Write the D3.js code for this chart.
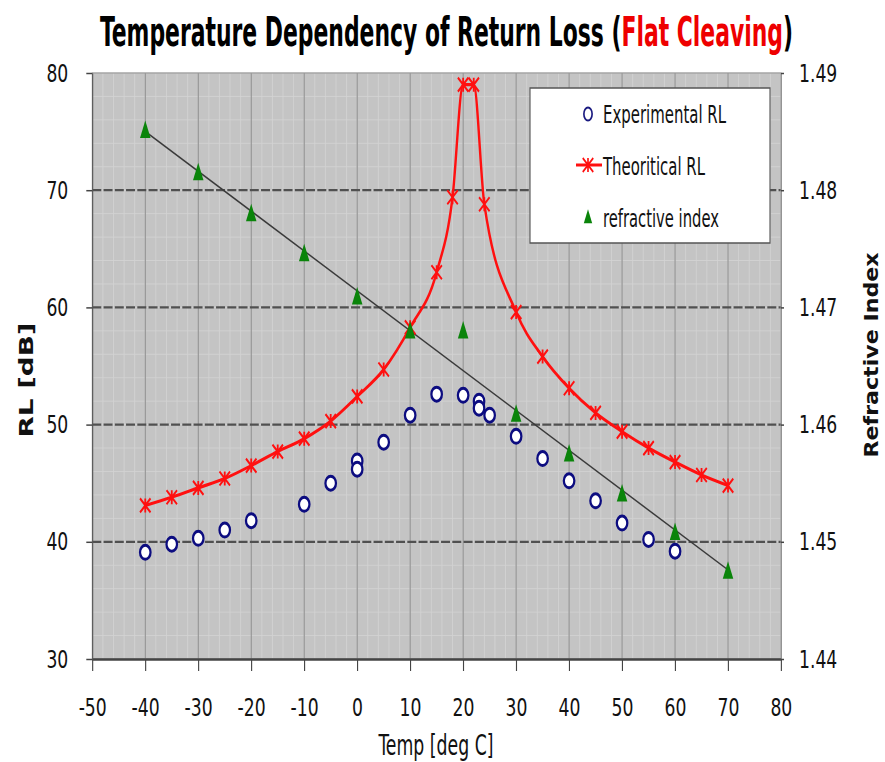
<!DOCTYPE html>
<html>
<head>
<meta charset="utf-8">
<script src="https://cdn.jsdelivr.net/npm/d3@7/dist/d3.min.js"></script>
<style>
  body { margin: 0; background: #ffffff; }
</style>
</head>
<body>
<div id="container"></div>
<script>
let width = 885;
let height = 762;
let sx = 0.75; // the whole picture is squeezed sideways

let xTicks = [-50, -40, -30, -20, -10, 0, 10, 20, 30, 40, 50, 60, 70, 80];
let rlTicks = [30, 40, 50, 60, 70, 80];
let nTicks = [1.44, 1.45, 1.46, 1.47, 1.48, 1.49];

// Experimental RL (circles)
let expTemp = [-40, -35, -30, -25, -20, -10, -5, 0, 0, 5, 10, 15, 20, 23, 23, 25, 30, 35, 40, 45, 50, 55, 60];
let expRL = [39.1, 39.8, 40.3, 41.0, 41.8, 43.2, 45.0, 46.9, 46.2, 48.5, 50.8, 52.6, 52.5, 52.0, 51.4, 50.8, 49.0, 47.1, 45.2, 43.5, 41.6, 40.2, 39.2];

// Theoritical RL (red line)
let theoTemp = [-40, -35, -30, -25, -20, -15, -10, -5, 0, 5, 10, 15, 18, 20, 22, 24, 30, 35, 40, 45, 50, 55, 60, 65, 70];
let theoRL = [43.1, 43.8, 44.6, 45.4, 46.5, 47.7, 48.8, 50.3, 52.4, 54.7, 58.3, 63.0, 69.4, 79.0, 79.0, 68.8, 59.6, 55.8, 53.1, 51.0, 49.4, 48.0, 46.8, 45.7, 44.8];

// refractive index (triangles, right axis)
let idxTemp = [-40, -30, -20, -10, 0, 10, 20, 30, 40, 50, 60, 70];
let idxN = [1.4850, 1.4814, 1.4779, 1.4745, 1.4708, 1.4679, 1.4679, 1.4608, 1.4574, 1.4540, 1.4507, 1.4474];

let legendNames = ['Experimental RL', 'Theoritical RL', 'refractive index'];

let font = '"DejaVu Sans Condensed", "DejaVu Sans", sans-serif';
let fontWide = '"DejaVu Sans", sans-serif';

let svg = d3.select('#container')
    .append('svg')
    .attr('width', width)
    .attr('height', height);

let g = svg.append('g').attr('transform', `scale(${sx},1)`);

let pLeft = 92.3 / sx, pRight = 781 / sx, pTop = 73, pBottom = 659;

let x = d3.scaleLinear().domain([-50, 80]).range([pLeft, pRight]);
let y = d3.scaleLinear().domain([30, 80]).range([pBottom, pTop]);
let y2 = d3.scaleLinear().domain([1.44, 1.49]).range([pBottom, pTop]);

// plot area
g.append('rect')
    .attr('x', pLeft).attr('y', pTop)
    .attr('width', pRight - pLeft).attr('height', pBottom - pTop)
    .attr('fill', '#c4c4c4');

// minor grid
g.selectAll('.minorX')
    .data(d3.range(-50, 81, 2))
    .enter().append('line')
    .attr('x1', d => x(d)).attr('x2', d => x(d))
    .attr('y1', pTop).attr('y2', pBottom)
    .attr('stroke', '#d2d2d2').attr('stroke-width', 1);

g.selectAll('.minorY')
    .data(d3.range(30, 81, 2))
    .enter().append('line')
    .attr('x1', pLeft).attr('x2', pRight)
    .attr('y1', d => y(d)).attr('y2', d => y(d))
    .attr('stroke', '#d2d2d2').attr('stroke-width', 1);

// major grid
g.selectAll('.majorX')
    .data(xTicks.slice(1, -1))
    .enter().append('line')
    .attr('x1', d => x(d)).attr('x2', d => x(d))
    .attr('y1', pTop).attr('y2', pBottom)
    .attr('stroke', '#8a8a8a').attr('stroke-width', 1.3);

g.selectAll('.majorY')
    .data(rlTicks.slice(1, -1))
    .enter().append('line')
    .attr('x1', pLeft).attr('x2', pRight)
    .attr('y1', d => y(d)).attr('y2', d => y(d))
    .attr('stroke', '#505050').attr('stroke-width', 2.2)
    .attr('stroke-dasharray', '12,3');

// frame
g.append('rect')
    .attr('x', pLeft).attr('y', pTop)
    .attr('width', pRight - pLeft).attr('height', pBottom - pTop)
    .attr('fill', 'none')
    .attr('stroke', '#9a9a9a').attr('stroke-width', 1.2);

// axes
let xAxis = g.append('g')
    .attr('transform', `translate(0,${pBottom})`)
    .call(d3.axisBottom(x).tickValues(xTicks).tickSize(12).tickPadding(27).tickSizeOuter(0)
        .tickFormat(d => String(d)));

let yAxis = g.append('g')
    .attr('transform', `translate(${pLeft},0)`)
    .call(d3.axisLeft(y).tickValues(rlTicks).tickSize(8).tickPadding(24).tickSizeOuter(0));

let y2Axis = g.append('g')
    .attr('transform', `translate(${pRight},0)`)
    .call(d3.axisRight(y2).tickValues(nTicks).tickSize(4).tickPadding(20).tickSizeOuter(0)
        .tickFormat(d3.format('.2f')));

[xAxis, yAxis, y2Axis].forEach(a => {
    a.selectAll('text')
        .attr('font-family', font)
        .attr('font-size', 25.5)
        .attr('fill', '#111');
    a.selectAll('line').attr('stroke', '#444').attr('stroke-width', 1.5);
});
xAxis.select('.domain').attr('stroke', '#444').attr('stroke-width', 2.5);
yAxis.select('.domain').attr('stroke', '#555').attr('stroke-width', 1.5);
y2Axis.select('.domain').attr('stroke', '#8a8a8a').attr('stroke-width', 1.2);
xAxis.selectAll('text').attr('dy', null).attr('y', 12 + 27 + 18);

// trendline for refractive index (least squares through the triangles)
let mt = d3.mean(idxTemp), mn = d3.mean(idxN);
let slope = d3.sum(idxTemp, (t, i) => (t - mt) * (idxN[i] - mn)) / d3.sum(idxTemp, t => (t - mt) * (t - mt));
let trend = [d3.min(idxTemp), d3.max(idxTemp)].map(t => [t, mn + slope * (t - mt)]);

g.append('path')
    .datum(trend)
    .attr('d', d3.line().x(d => x(d[0])).y(d => y2(d[1])))
    .attr('fill', 'none')
    .attr('stroke', '#3a3a3a')
    .attr('stroke-width', 1.6);

// theoretical line
let theo = theoTemp.map((t, i) => [t, theoRL[i]]);
g.append('path')
    .datum(theo)
    .attr('d', d3.line().x(d => x(d[0])).y(d => y(d[1])).curve(d3.curveMonotoneX))
    .attr('fill', 'none')
    .attr('stroke', '#ff1010')
    .attr('stroke-width', 3.2);

let starPath = 'M-7,-7L7,7M-7,7L7,-7M0,-7L0,7';
let triPath = 'M0,-11L7,6.5L-7,6.5Z';

g.selectAll('.theoMark')
    .data(theo)
    .enter().append('path')
    .attr('transform', d => `translate(${x(d[0])},${y(d[1])})`)
    .attr('d', starPath)
    .attr('stroke', '#ff1010')
    .attr('stroke-width', 2.4)
    .attr('fill', 'none');

// refractive index triangles
g.selectAll('.idx')
    .data(idxTemp.map((t, i) => [t, idxN[i]]))
    .enter().append('path')
    .attr('transform', d => `translate(${x(d[0])},${y2(d[1])})`)
    .attr('d', triPath)
    .attr('fill', '#0a840a');

// experimental circles
g.selectAll('.exp')
    .data(expTemp.map((t, i) => [t, expRL[i]]))
    .enter().append('circle')
    .attr('cx', d => x(d[0]))
    .attr('cy', d => y(d[1]))
    .attr('r', 7)
    .attr('fill', '#ffffff')
    .attr('stroke', '#0c0c80')
    .attr('stroke-width', 3);

// legend
let lg = g.append('g');
lg.append('rect')
    .attr('x', 530 / sx).attr('y', 88)
    .attr('width', 240 / sx).attr('height', 155)
    .attr('fill', '#ffffff')
    .attr('stroke', '#555').attr('stroke-width', 1.5);

let mx = 588 / sx;
lg.append('ellipse')
    .attr('cx', mx).attr('cy', 114).attr('rx', 5.5).attr('ry', 6.5)
    .attr('fill', '#fff').attr('stroke', '#1a1a80').attr('stroke-width', 2.2);
lg.append('line')
    .attr('x1', 576 / sx).attr('x2', 602 / sx).attr('y1', 165).attr('y2', 165)
    .attr('stroke', '#ff1010').attr('stroke-width', 3);
lg.append('path')
    .attr('transform', `translate(${mx},165)`)
    .attr('d', starPath)
    .attr('stroke', '#ff1010').attr('stroke-width', 2.2).attr('fill', 'none');
lg.append('path')
    .attr('transform', `translate(${mx},218) scale(0.8)`)
    .attr('d', triPath)
    .attr('fill', '#0a840a');

function fit(t, cx, cy, len, rot) {
    let w = t.node().getComputedTextLength();
    let s = len / w;
    t.attr('x', 0).attr('y', 0)
        .attr('transform', `translate(${cx},${cy})` + (rot ? ` rotate(${rot})` : '') + ` scale(${s},1)`);
}

let legendRows = [123, 175, 227];
let legendLens = [123, 102, 116];
legendNames.forEach((name, i) => {
    let t = lg.append('text')
        .attr('font-family', font)
        .attr('font-size', 24)
        .attr('fill', '#111')
        .text(name);
    fit(t, 603 / sx, legendRows[i], legendLens[i] / sx);
});

// title
let title = g.append('text')
    .attr('font-family', font)
    .attr('font-size', 40)
    .attr('font-weight', 'bold')
    .attr('text-anchor', 'middle')
    .attr('fill', '#000');
title.append('tspan').text('Temperature Dependency of Return Loss (');
title.append('tspan').attr('fill', '#ee0000').text('Flat Cleaving');
title.append('tspan').text(')');
fit(title, 446.5 / sx, 46, 693 / sx);

// axis titles
let xt = g.append('text')
    .attr('font-family', font)
    .attr('font-size', 28)
    .attr('text-anchor', 'middle')
    .attr('fill', '#111')
    .text('Temp [deg C]');
fit(xt, 436 / sx, 755, 115 / sx);

let yt = g.append('text')
    .attr('font-family', fontWide)
    .attr('font-size', 27)
    .attr('font-weight', 'bold')
    .attr('text-anchor', 'middle')
    .attr('fill', '#111')
    .text('RL [dB]');
fit(yt, 33 / sx, 380, 115, -90);

let y2t = g.append('text')
    .attr('font-family', fontWide)
    .attr('font-size', 25)
    .attr('font-weight', 'bold')
    .attr('text-anchor', 'middle')
    .attr('fill', '#111')
    .text('Refractive Index');
fit(y2t, 878 / sx, 355, 205, -90);
</script>
</body>
</html>
